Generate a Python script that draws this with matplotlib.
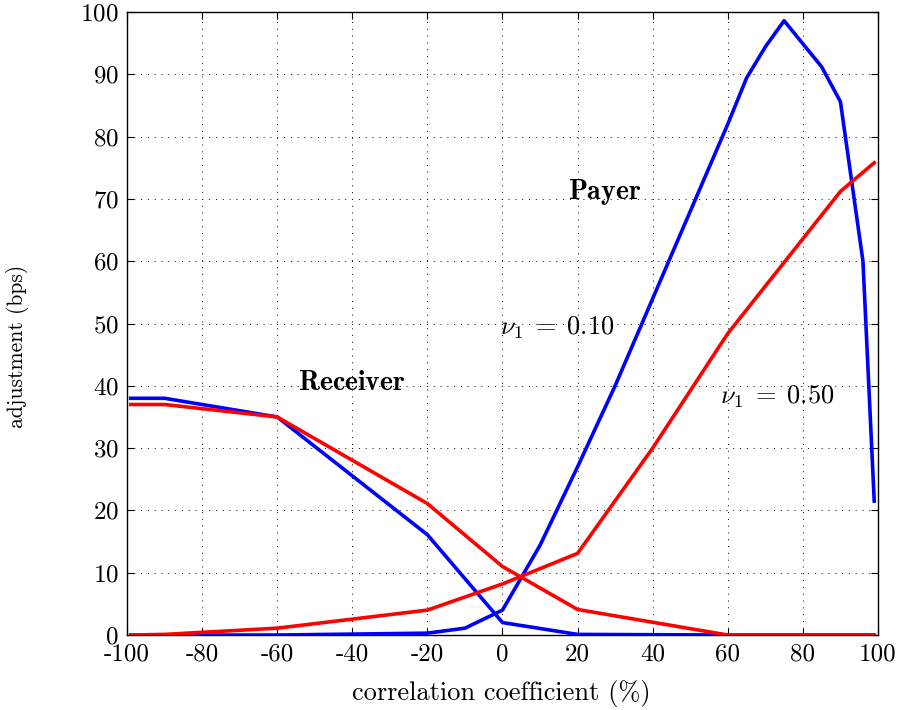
import matplotlib
matplotlib.use('Agg')
import matplotlib.pyplot as plt

plt.rcParams['font.family'] = 'serif'
plt.rcParams['font.serif'] = ['cmr10']
plt.rcParams['mathtext.fontset'] = 'cm'
plt.rcParams['axes.unicode_minus'] = False
plt.rcParams['axes.formatter.use_mathtext'] = True

# payer, nu1 = 0.10 (blue)
x_pay_b = [-99, -90, -60, -20, -10, 0, 10, 20, 30, 40, 50, 60, 65, 70, 75, 85, 90, 96, 99]
y_pay_b = [0, 0, 0, 0.3, 1.1, 4, 14.4, 27, 40, 54, 68, 82, 89.4, 94.4, 98.6, 91.2, 85.6, 60, 21.5]
# receiver, nu1 = 0.10 (blue)
x_rec_b = [-99, -90, -60, -20, 0, 20, 60, 99]
y_rec_b = [38, 38, 35, 16.1, 2, 0.1, 0, 0]
# receiver, nu1 = 0.50 (red)
x_rec_r = [-99, -90, -60, -20, 0, 20, 60, 99]
y_rec_r = [37, 37, 35, 21.1, 11, 4.1, 0, 0]
# payer, nu1 = 0.50 (red)
x_pay_r = [-99, -90, -60, -20, 0, 20, 40, 60, 90, 99]
y_pay_r = [0, 0.1, 1.1, 4, 8.2, 13.1, 30, 48.4, 71.2, 75.8]

xticks = [-100, -80, -60, -40, -20, 0, 20, 40, 60, 80, 100]
xtick_labels = ['-100', '-80', '-60', '-40', '-20', '0', '20', '40', '60', '80', '100']
yticks = [0, 10, 20, 30, 40, 50, 60, 70, 80, 90, 100]

fig = plt.figure(figsize=(8.98, 7.10), dpi=100)
ax = fig.add_axes([0.1414, 0.1056, 0.8363, 0.8775])

ax.plot(x_pay_b, y_pay_b, color='#0000ff', lw=2.6, zorder=3)
ax.plot(x_rec_b, y_rec_b, color='#0000ff', lw=2.6, zorder=3)
ax.plot(x_rec_r, y_rec_r, color='#ff0000', lw=2.6, zorder=3)
ax.plot(x_pay_r, y_pay_r, color='#ff0000', lw=2.6, zorder=3)

ax.set_xlim(-100, 100)
ax.set_ylim(0, 100)
ax.set_xticks(xticks)
ax.set_xticklabels(xtick_labels)
ax.set_yticks(yticks)
ax.tick_params(direction='in', top=True, right=True, labelsize=18, length=5, width=0.8, pad=6)
ax.grid(True, color='black', linestyle=(0, (1, 6)), linewidth=0.7)
for s in ax.spines.values():
    s.set_linewidth(1.0)

ax.set_xlabel('correlation coefficient (%)', fontsize=19)
ax.xaxis.set_label_coords(0.499, -0.072)
ax.set_ylabel('adjustment (bps)', fontsize=15.5)
ax.yaxis.set_label_coords(-0.131, 0.464)

ax.text(27.3, 71.1, r'$\mathbf{Payer}$', fontsize=20, ha='center', va='center')
ax.text(-40.1, 40.4, r'$\mathbf{Receiver}$', fontsize=20, ha='center', va='center')
ax.text(-0.7, 49.3, r'$\nu_1\;=\;0.10$', fontsize=19, ha='left', va='center')
ax.text(57.9, 38.2, r'$\nu_1\;=\;0.50$', fontsize=19, ha='left', va='center')

fig.savefig('out.png', dpi=100)
